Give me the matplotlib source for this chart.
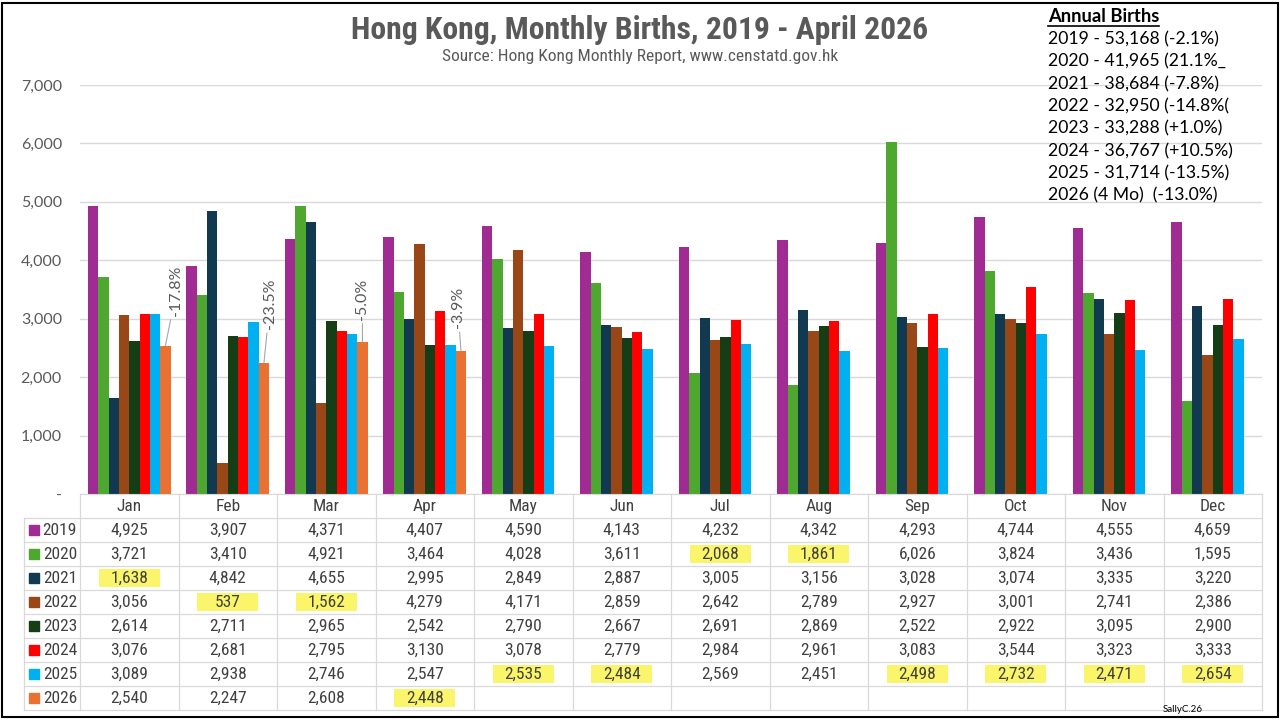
import numpy as np
import matplotlib.pyplot as plt
from matplotlib import font_manager as fm
from matplotlib.patches import Rectangle
from matplotlib.lines import Line2D
from matplotlib.ticker import FuncFormatter

months = ['Jan', 'Feb', 'Mar', 'Apr', 'May', 'Jun', 'Jul', 'Aug', 'Sep', 'Oct', 'Nov', 'Dec']
years = ['2019', '2020', '2021', '2022', '2023', '2024', '2025', '2026']

births_2019 = [4925, 3907, 4371, 4407, 4590, 4143, 4232, 4342, 4293, 4744, 4555, 4659]
births_2020 = [3721, 3410, 4921, 3464, 4028, 3611, 2068, 1861, 6026, 3824, 3436, 1595]
births_2021 = [1638, 4842, 4655, 2995, 2849, 2887, 3005, 3156, 3028, 3074, 3335, 3220]
births_2022 = [3056, 537, 1562, 4279, 4171, 2859, 2642, 2789, 2927, 3001, 2741, 2386]
births_2023 = [2614, 2711, 2965, 2542, 2790, 2667, 2691, 2869, 2522, 2922, 3095, 2900]
births_2024 = [3076, 2681, 2795, 3130, 3078, 2779, 2984, 2961, 3083, 3544, 3323, 3333]
births_2025 = [3089, 2938, 2746, 2547, 2535, 2484, 2569, 2451, 2498, 2732, 2471, 2654]
births_2026 = [2540, 2247, 2608, 2448]

colors = ['#A02B93', '#4EA72E', '#113A50', '#994717', '#163E16', '#FF0000', '#00B0F0', '#E97132']

change_2026 = ['-17.8%', '-23.5%', '-5.0%', '-3.9%']

annual_title = 'Annual Births'
annual_lines = ['2019 - 53,168 (-2.1%)',
                '2020 - 41,965 (21.1%_',
                '2021 - 38,684 (-7.8%)',
                '2022 - 32,950 (-14.8%(',
                '2023 - 33,288 (+1.0%)',
                '2024 - 36,767 (+10.5%)',
                '2025 - 31,714 (-13.5%)',
                '2026 (4 Mo)  (-13.0%)']

# cells marked with highlighter in the table
highlighted = [('2021', 'Jan'), ('2022', 'Feb'), ('2022', 'Mar'), ('2026', 'Apr'),
               ('2025', 'May'), ('2025', 'Jun'), ('2020', 'Jul'), ('2020', 'Aug'),
               ('2025', 'Sep'), ('2025', 'Oct'), ('2025', 'Nov'), ('2025', 'Dec')]

series = [births_2019, births_2020, births_2021, births_2022,
          births_2023, births_2024, births_2025, births_2026]


def narrow_font(weight):
    # look for a condensed face, since the original uses a narrow font
    prefs = ['Liberation Sans Narrow', 'Roboto Condensed', 'Noto Sans', 'Open Sans',
             'Roboto', 'DejaVu Sans']
    for p in prefs:
        for f in fm.fontManager.ttflist:
            if f.name != p or f.style != 'normal' or f.weight != weight:
                continue
            if 'Narrow' in p or 'Condensed' in p or f.stretch == 'condensed':
                return fm.FontProperties(fname=f.fname)
    return fm.FontProperties(family='Liberation Sans', weight=weight)


nr = narrow_font(400)
nb = narrow_font(700)
regular = ['Lato', 'DejaVu Sans']
grey = '#595959'
gridc = '#D9D9D9'
txtc = '#404040'

W, H = 1280, 720
fig = plt.figure(figsize=(12.8, 7.2), dpi=100)
fig.patch.set_facecolor('white')

# main bar chart
ax = fig.add_axes([80 / W, 226 / H, 1182 / W, 409 / H])
x = np.arange(len(months))
bw = 0.105
for i, (vals, c) in enumerate(zip(series, colors)):
    n = len(vals)
    ax.bar(x[:n] + (i - 3.5) * bw, vals, bw, color=c, zorder=2)

ax.set_xlim(-0.5, 11.5)
ax.set_ylim(0, 7000)
ax.set_yticks(range(0, 7001, 1000))
ax.yaxis.set_major_formatter(FuncFormatter(lambda v, p: '-' if v == 0 else f'{v:,.0f}'))
ax.set_xticks([])
ax.tick_params(axis='y', length=0, pad=13, labelsize=11.5, labelcolor=grey)
for lab in ax.get_yticklabels():
    lab.set_family(regular)
ax.yaxis.grid(True, color=gridc, lw=1)
ax.set_axisbelow(True)
for s in ['top', 'right', 'left']:
    ax.spines[s].set_visible(False)
ax.spines['bottom'].set_color(gridc)

# rotated change labels over the 2026 bars
offsets = [(11, 30), (6, 34), (0, 22), (-3, 23)]
for m, (lab, (dx, dy)) in enumerate(zip(change_2026, offsets)):
    bx = m + 3.5 * bw
    ax.annotate(lab, xy=(bx, births_2026[m]), xytext=(dx, dy), textcoords='offset pixels',
                rotation=90, ha='center', va='bottom', fontsize=11.5, color=grey,
                family=regular,
                arrowprops=dict(arrowstyle='-', color='#A6A6A6', lw=0.8, shrinkA=1, shrinkB=0))

# data table under the chart
tab = fig.add_axes([24 / W, 10 / H, 1238 / W, 216 / H])
x0 = -0.5 - 56 / 98.5
tab.set_xlim(x0, 11.5)
tab.set_ylim(9, 0)
tab.axis('off')

for r in range(1, 10):
    tab.plot([x0, 11.5], [r, r], color=gridc, lw=0.9, clip_on=False)
for k in range(13):
    tab.plot([-0.5 + k, -0.5 + k], [0, 9], color=gridc, lw=0.9, clip_on=False)
tab.plot([x0, x0], [1, 9], color=gridc, lw=0.9, clip_on=False)

for m, name in enumerate(months):
    tab.text(m, 0.52, name, ha='center', va='center', fontproperties=nr, fontsize=12.5, color=txtc)

for (yr, mo) in highlighted:
    r = years.index(yr) + 1
    m = months.index(mo)
    tab.add_patch(Rectangle((m - 0.31, r + 0.14), 0.62, 0.72, color='#FAF56A', lw=0, zorder=1))

for i, (yr, vals, c) in enumerate(zip(years, series, colors)):
    yc = i + 1.52
    tab.plot(x0 + 0.1, yc, marker='s', ms=6.5, color=c, clip_on=False)
    tab.text(-0.53, yc, yr, ha='right', va='center', fontproperties=nr, fontsize=12.5, color=txtc)
    for m, v in enumerate(vals):
        tab.text(m, yc, f'{v:,}', ha='center', va='center', fontproperties=nr, fontsize=12.5,
                 color=txtc, zorder=3)

fig.text(1163 / W, 1 - 710 / H, 'SallyC.26', fontsize=7, color='black', ha='left', va='center',
         family=regular)

# titles
fig.text(0.5, 1 - 30 / H, 'Hong Kong, Monthly Births, 2019 - April 2026', ha='center', va='center',
         fontproperties=nb, fontsize=22.8, color=grey)
fig.text(0.5, 1 - 57 / H, 'Source: Hong Kong Monthly Report, www.censtatd.gov.hk', ha='center',
         va='center', fontproperties=nr, fontsize=12.5, color=grey)

# annual totals box
t0 = fig.text(1048 / W, 1 - 16 / H, annual_title, ha='left', va='center', fontsize=13.2,
              fontweight='bold', color='black', family=regular)
for j, line in enumerate(annual_lines):
    fig.text(1048 / W, 1 - (39.5 + 22.3 * j) / H, line, ha='left', va='center', fontsize=12.7,
             color='black', family=regular)

fig.canvas.draw()
bb = t0.get_window_extent().transformed(fig.transFigure.inverted())
fig.add_artist(Line2D([bb.x0, bb.x1], [bb.y0 - 1 / H, bb.y0 - 1 / H], color='black', lw=1.2,
                      transform=fig.transFigure))

fig.add_artist(Rectangle((2 / W, 3 / H), 1 - 4 / W, 1 - 6 / H, transform=fig.transFigure,
                         fill=False, ec='black', lw=1.5))

fig.savefig('out.png', dpi=100, facecolor='white')
